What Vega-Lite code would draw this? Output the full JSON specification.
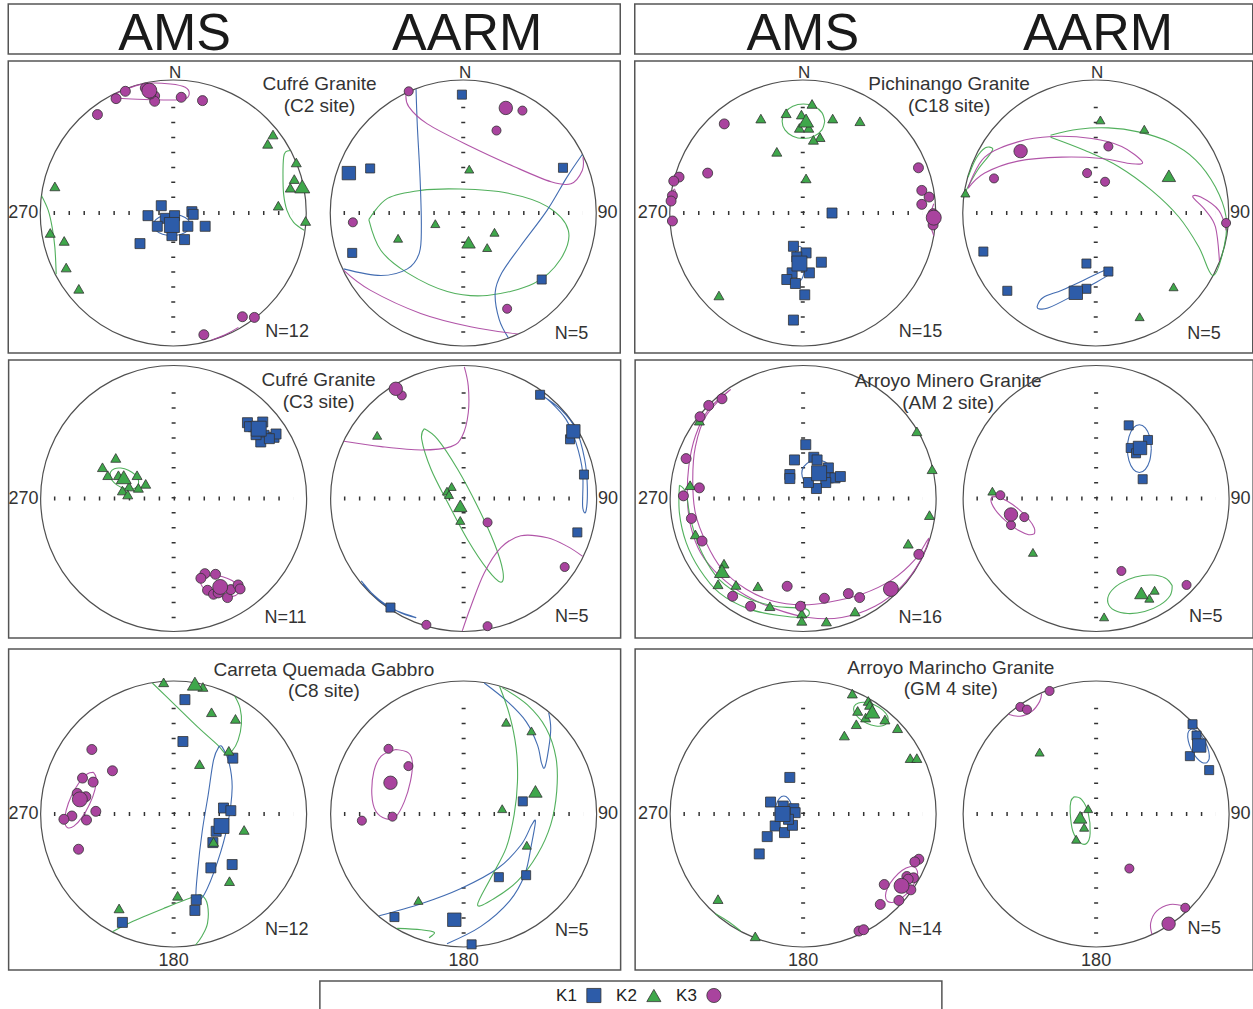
{
"$schema":"https://vega.github.io/schema/vega-lite/v6.json",
"padding":{"left":7.25,"top":3,"right":0,"bottom":0},
"background":"white",
"spacing":5,
"config":{
 "view":{"stroke":"#555","strokeWidth":1.5},
 "axis":{"disable":true},
 "legend":{"disable":true},
 "range":{"category":["#2d5ca9","#3fa74b","#a9439e"],"symbol":["square","triangle-up","circle"]},
 "point":{"filled":true,"opacity":1,"stroke":"#333","strokeWidth":0.8},
 "line":{"strokeWidth":1.1,"opacity":0.9,"interpolate":"cardinal"},
 "rule":{"color":"#333","strokeWidth":4,"strokeDash":[1.5,13.46]},
 "text":{"font":"Liberation Sans","color":"#333","fontSize":18,"baseline":"alphabetic"}
},
"datasets":{
"p1":[{"k":"K1","x":-0.09,"y":0.055},{"k":"K1","x":-0.19,"y":-0.02},{"k":"K1","x":-0.06,"y":-0.04},{"k":"K1","x":0.01,"y":-0.02},{"k":"K1","x":0.14,"y":0.01},{"k":"K1","x":0.15,"y":-0.01},{"k":"K1","x":0.11,"y":-0.1},{"k":"K1","x":0.24,"y":-0.1},{"k":"K1","x":-0.12,"y":-0.1},{"k":"K1","x":-0.01,"y":-0.17},{"k":"K1","x":0.085,"y":-0.2},{"k":"K1","x":-0.25,"y":-0.23},
{"k":"K2","x":0.75,"y":0.59},{"k":"K2","x":0.71,"y":0.52},{"k":"K2","x":0.925,"y":0.38},{"k":"K2","x":0.91,"y":0.255},{"k":"K2","x":0.88,"y":0.19},{"k":"K2","x":0.79,"y":0.055},{"k":"K2","x":0.995,"y":-0.06},{"k":"K2","x":-0.89,"y":0.2},{"k":"K2","x":-0.925,"y":-0.15},{"k":"K2","x":-0.82,"y":-0.21},{"k":"K2","x":-0.805,"y":-0.41},{"k":"K2","x":-0.71,"y":-0.57},
{"k":"K3","x":-0.36,"y":0.915},{"k":"K3","x":-0.43,"y":0.86},{"k":"K3","x":-0.21,"y":0.94},{"k":"K3","x":-0.14,"y":0.88},{"k":"K3","x":-0.14,"y":0.84},{"k":"K3","x":0.06,"y":0.87},{"k":"K3","x":0.22,"y":0.845},{"k":"K3","x":-0.57,"y":0.74},{"k":"K3","x":0.52,"y":-0.78},{"k":"K3","x":0.61,"y":-0.785},{"k":"K3","x":0.23,"y":-0.915},{"k":"K3","x":-0.17,"y":0.895},
{"k":"K1","x":-0.01,"y":-0.09,"m":1},{"k":"K2","x":0.97,"y":0.2,"m":1},{"k":"K3","x":-0.18,"y":0.92,"m":1}],
"p2":[{"k":"K1","x":-0.01,"y":0.89},{"k":"K1","x":-0.7,"y":0.335},{"k":"K1","x":0.75,"y":0.34},{"k":"K1","x":-0.835,"y":-0.3},{"k":"K1","x":0.59,"y":-0.5},
{"k":"K2","x":0.045,"y":0.33},{"k":"K2","x":-0.21,"y":-0.08},{"k":"K2","x":-0.49,"y":-0.19},{"k":"K2","x":0.235,"y":-0.145},{"k":"K2","x":0.18,"y":-0.26},
{"k":"K3","x":-0.41,"y":0.915},{"k":"K3","x":0.445,"y":0.77},{"k":"K3","x":0.25,"y":0.62},{"k":"K3","x":-0.83,"y":-0.07},{"k":"K3","x":0.33,"y":-0.72},
{"k":"K1","x":-0.86,"y":0.3,"m":1},{"k":"K2","x":0.04,"y":-0.22,"m":1},{"k":"K3","x":0.32,"y":0.79,"m":1}],
"p3":[{"k":"K1","x":0.22,"y":0.0},{"k":"K1","x":-0.07,"y":-0.25},{"k":"K1","x":0.025,"y":-0.3},{"k":"K1","x":-0.045,"y":-0.33},{"k":"K1","x":0.14,"y":-0.37},{"k":"K1","x":0.05,"y":-0.45},{"k":"K1","x":-0.08,"y":-0.45},{"k":"K1","x":-0.12,"y":-0.5},{"k":"K1","x":-0.055,"y":-0.53},{"k":"K1","x":0.015,"y":-0.615},{"k":"K1","x":-0.07,"y":-0.805},
{"k":"K2","x":0.07,"y":0.82},{"k":"K2","x":-0.125,"y":0.75},{"k":"K2","x":-0.315,"y":0.71},{"k":"K2","x":0.225,"y":0.71},{"k":"K2","x":0.43,"y":0.69},{"k":"K2","x":-0.01,"y":0.74},{"k":"K2","x":-0.025,"y":0.64},{"k":"K2","x":0.045,"y":0.64},{"k":"K2","x":0.13,"y":0.57},{"k":"K2","x":0.08,"y":0.55},{"k":"K2","x":-0.195,"y":0.46},{"k":"K2","x":0.025,"y":0.26},{"k":"K2","x":-0.63,"y":-0.62},
{"k":"K3","x":-0.59,"y":0.67},{"k":"K3","x":-0.715,"y":0.3},{"k":"K3","x":-0.93,"y":0.27},{"k":"K3","x":-0.97,"y":0.24},{"k":"K3","x":-0.98,"y":0.13},{"k":"K3","x":-0.99,"y":0.09},{"k":"K3","x":-0.98,"y":-0.06},{"k":"K3","x":0.87,"y":0.34},{"k":"K3","x":0.895,"y":0.17},{"k":"K3","x":0.95,"y":0.12},{"k":"K3","x":0.895,"y":0.065},{"k":"K3","x":0.98,"y":-0.005},{"k":"K3","x":0.98,"y":-0.09},
{"k":"K1","x":-0.025,"y":-0.38,"m":1},{"k":"K2","x":0.025,"y":0.695,"m":1},{"k":"K3","x":0.985,"y":-0.035,"m":1}],
"p4":[{"k":"K1","x":-0.845,"y":-0.29},{"k":"K1","x":-0.665,"y":-0.585},{"k":"K1","x":-0.07,"y":-0.38},{"k":"K1","x":0.095,"y":-0.44},{"k":"K1","x":-0.07,"y":-0.57},
{"k":"K2","x":0.035,"y":0.7},{"k":"K2","x":0.365,"y":0.63},{"k":"K2","x":-0.98,"y":0.15},{"k":"K2","x":0.585,"y":-0.555},{"k":"K2","x":0.33,"y":-0.78},
{"k":"K3","x":0.095,"y":0.5},{"k":"K3","x":-0.765,"y":0.26},{"k":"K3","x":-0.065,"y":0.3},{"k":"K3","x":0.07,"y":0.235},{"k":"K3","x":0.98,"y":-0.075},
{"k":"K1","x":-0.15,"y":-0.6,"m":1},{"k":"K2","x":0.55,"y":0.28,"m":1},{"k":"K3","x":-0.565,"y":0.465,"m":1}],
"p5":[{"k":"K1","x":0.555,"y":0.57},{"k":"K1","x":0.6,"y":0.54},{"k":"K1","x":0.67,"y":0.575},{"k":"K1","x":0.68,"y":0.475},{"k":"K1","x":0.655,"y":0.425},{"k":"K1","x":0.755,"y":0.46},{"k":"K1","x":0.77,"y":0.485},{"k":"K1","x":0.57,"y":0.54},{"k":"K1","x":0.72,"y":0.45},{"k":"K1","x":0.62,"y":0.48},
{"k":"K2","x":-0.435,"y":0.305},{"k":"K2","x":-0.535,"y":0.235},{"k":"K2","x":-0.495,"y":0.175},{"k":"K2","x":-0.415,"y":0.175},{"k":"K2","x":-0.275,"y":0.175},{"k":"K2","x":-0.21,"y":0.11},{"k":"K2","x":-0.335,"y":0.09},{"k":"K2","x":-0.265,"y":0.08},{"k":"K2","x":-0.385,"y":0.06},{"k":"K2","x":-0.345,"y":0.03},
{"k":"K3","x":0.235,"y":-0.565},{"k":"K3","x":0.315,"y":-0.57},{"k":"K3","x":0.205,"y":-0.6},{"k":"K3","x":0.255,"y":-0.69},{"k":"K3","x":0.3,"y":-0.72},{"k":"K3","x":0.405,"y":-0.745},{"k":"K3","x":0.43,"y":-0.685},{"k":"K3","x":0.485,"y":-0.65},{"k":"K3","x":0.5,"y":-0.68},{"k":"K3","x":0.335,"y":-0.71},
{"k":"K1","x":0.64,"y":0.525,"m":1},{"k":"K2","x":-0.375,"y":0.16,"m":1},{"k":"K3","x":0.35,"y":-0.665,"m":1}],
"p6":[{"k":"K1","x":0.575,"y":0.78},{"k":"K1","x":0.8,"y":0.445},{"k":"K1","x":0.905,"y":0.18},{"k":"K1","x":0.855,"y":-0.255},{"k":"K1","x":-0.55,"y":-0.82},
{"k":"K2","x":-0.65,"y":0.475},{"k":"K2","x":-0.09,"y":0.09},{"k":"K2","x":-0.125,"y":0.055},{"k":"K2","x":-0.11,"y":0.03},{"k":"K2","x":-0.025,"y":-0.165},
{"k":"K3","x":-0.465,"y":0.775},{"k":"K3","x":0.18,"y":-0.18},{"k":"K3","x":0.76,"y":-0.515},{"k":"K3","x":-0.28,"y":-0.95},{"k":"K3","x":0.18,"y":-0.96},
{"k":"K1","x":0.825,"y":0.505,"m":1},{"k":"K2","x":-0.025,"y":-0.055,"m":1},{"k":"K3","x":-0.51,"y":0.825,"m":1}],
"p7":[{"k":"K1","x":0.02,"y":0.405},{"k":"K1","x":-0.065,"y":0.29},{"k":"K1","x":0.08,"y":0.31},{"k":"K1","x":0.105,"y":0.29},{"k":"K1","x":0.19,"y":0.23},{"k":"K1","x":-0.1,"y":0.18},{"k":"K1","x":-0.1,"y":0.15},{"k":"K1","x":0.19,"y":0.155},{"k":"K1","x":0.24,"y":0.155},{"k":"K1","x":0.28,"y":0.165},{"k":"K1","x":0.17,"y":0.12},{"k":"K1","x":0.1,"y":0.075},{"k":"K1","x":0.04,"y":0.12},
{"k":"K2","x":-0.78,"y":0.585},{"k":"K2","x":0.855,"y":0.505},{"k":"K2","x":0.97,"y":0.22},{"k":"K2","x":-0.85,"y":0.1},{"k":"K2","x":0.95,"y":-0.125},{"k":"K2","x":-0.81,"y":-0.27},{"k":"K2","x":0.79,"y":-0.34},{"k":"K2","x":-0.595,"y":-0.49},{"k":"K2","x":-0.64,"y":-0.645},{"k":"K2","x":-0.505,"y":-0.65},{"k":"K2","x":-0.34,"y":-0.66},{"k":"K2","x":-0.25,"y":-0.81},{"k":"K2","x":-0.01,"y":-0.865},{"k":"K2","x":-0.01,"y":-0.92},{"k":"K2","x":0.175,"y":-0.925},{"k":"K2","x":0.39,"y":-0.85},
{"k":"K3","x":-0.61,"y":0.75},{"k":"K3","x":-0.71,"y":0.7},{"k":"K3","x":-0.775,"y":0.615},{"k":"K3","x":-0.88,"y":0.3},{"k":"K3","x":-0.78,"y":0.08},{"k":"K3","x":-0.9,"y":0.02},{"k":"K3","x":-0.84,"y":-0.15},{"k":"K3","x":-0.76,"y":-0.32},{"k":"K3","x":-0.12,"y":-0.66},{"k":"K3","x":-0.53,"y":-0.735},{"k":"K3","x":-0.395,"y":-0.81},{"k":"K3","x":-0.02,"y":-0.81},{"k":"K3","x":0.16,"y":-0.75},{"k":"K3","x":0.34,"y":-0.715},{"k":"K3","x":0.425,"y":-0.745},{"k":"K3","x":0.87,"y":-0.42},
{"k":"K1","x":0.12,"y":0.19,"m":1},{"k":"K2","x":-0.61,"y":-0.545,"m":1},{"k":"K3","x":0.66,"y":-0.68,"m":1}],
"p8":[{"k":"K1","x":0.245,"y":0.55},{"k":"K1","x":0.39,"y":0.44},{"k":"K1","x":0.26,"y":0.38},{"k":"K1","x":0.3,"y":0.34},{"k":"K1","x":0.35,"y":0.145},
{"k":"K2","x":-0.78,"y":0.055},{"k":"K2","x":-0.475,"y":-0.405},{"k":"K2","x":0.06,"y":-0.89},{"k":"K2","x":0.4,"y":-0.75},{"k":"K2","x":0.44,"y":-0.69},
{"k":"K3","x":-0.72,"y":0.025},{"k":"K3","x":-0.54,"y":-0.14},{"k":"K3","x":-0.64,"y":-0.2},{"k":"K3","x":0.19,"y":-0.545},{"k":"K3","x":0.68,"y":-0.65},
{"k":"K1","x":0.33,"y":0.38,"m":1},{"k":"K2","x":0.34,"y":-0.71,"m":1},{"k":"K3","x":-0.64,"y":-0.12,"m":1}],
"p9":[{"k":"K1","x":0.085,"y":0.86},{"k":"K1","x":0.07,"y":0.545},{"k":"K1","x":0.445,"y":0.42},{"k":"K1","x":0.375,"y":0.045},{"k":"K1","x":0.43,"y":0.025},{"k":"K1","x":0.32,"y":-0.13},{"k":"K1","x":0.295,"y":-0.215},{"k":"K1","x":0.28,"y":-0.405},{"k":"K1","x":0.44,"y":-0.38},{"k":"K1","x":0.17,"y":-0.645},{"k":"K1","x":0.16,"y":-0.725},{"k":"K1","x":-0.385,"y":-0.815},
{"k":"K2","x":-0.075,"y":0.99},{"k":"K2","x":0.22,"y":0.955},{"k":"K2","x":0.285,"y":0.765},{"k":"K2","x":0.465,"y":0.715},{"k":"K2","x":0.415,"y":0.475},{"k":"K2","x":0.195,"y":0.375},{"k":"K2","x":0.53,"y":-0.12},{"k":"K2","x":0.3,"y":-0.21},{"k":"K2","x":0.42,"y":-0.505},{"k":"K2","x":0.03,"y":-0.615},{"k":"K2","x":-0.41,"y":-0.71},
{"k":"K3","x":-0.615,"y":0.485},{"k":"K3","x":-0.46,"y":0.325},{"k":"K3","x":-0.685,"y":0.27},{"k":"K3","x":-0.605,"y":0.24},{"k":"K3","x":-0.725,"y":0.155},{"k":"K3","x":-0.66,"y":0.13},{"k":"K3","x":-0.585,"y":0.02},{"k":"K3","x":-0.765,"y":-0.015},{"k":"K3","x":-0.825,"y":-0.04},{"k":"K3","x":-0.655,"y":-0.045},{"k":"K3","x":-0.715,"y":-0.265},
{"k":"K1","x":0.36,"y":-0.09,"m":1},{"k":"K2","x":0.16,"y":0.98,"m":1},{"k":"K3","x":-0.705,"y":0.11,"m":1}],
"p10":[{"k":"K1","x":0.445,"y":0.095},{"k":"K1","x":0.265,"y":-0.475},{"k":"K1","x":0.47,"y":-0.46},{"k":"K1","x":-0.52,"y":-0.775},{"k":"K1","x":0.06,"y":-0.98},
{"k":"K2","x":0.32,"y":0.69},{"k":"K2","x":0.51,"y":0.625},{"k":"K2","x":0.29,"y":0.04},{"k":"K2","x":0.475,"y":-0.235},{"k":"K2","x":-0.34,"y":-0.65},
{"k":"K3","x":-0.565,"y":0.49},{"k":"K3","x":-0.415,"y":0.36},{"k":"K3","x":-0.535,"y":-0.02},{"k":"K3","x":-0.765,"y":-0.05},
{"k":"K1","x":-0.07,"y":-0.795,"m":1},{"k":"K2","x":0.54,"y":0.17,"m":1},{"k":"K3","x":-0.55,"y":0.235,"m":1}],
"p11":[{"k":"K1","x":-0.1,"y":0.275},{"k":"K1","x":-0.245,"y":0.09},{"k":"K1","x":-0.15,"y":0.06},{"k":"K1","x":-0.07,"y":0.04},{"k":"K1","x":-0.06,"y":0.01},{"k":"K1","x":-0.21,"y":-0.09},{"k":"K1","x":-0.14,"y":-0.14},{"k":"K1","x":-0.08,"y":-0.085},{"k":"K1","x":-0.27,"y":-0.17},{"k":"K1","x":-0.33,"y":-0.3},{"k":"K1","x":-0.11,"y":-0.04},
{"k":"K2","x":0.37,"y":0.905},{"k":"K2","x":0.49,"y":0.85},{"k":"K2","x":0.5,"y":0.82},{"k":"K2","x":0.41,"y":0.775},{"k":"K2","x":0.47,"y":0.725},{"k":"K2","x":0.615,"y":0.71},{"k":"K2","x":0.4,"y":0.675},{"k":"K2","x":0.71,"y":0.645},{"k":"K2","x":0.31,"y":0.59},{"k":"K2","x":0.805,"y":0.42},{"k":"K2","x":0.855,"y":0.42},{"k":"K2","x":-0.64,"y":-0.64},{"k":"K2","x":-0.36,"y":-0.92},
{"k":"K3","x":0.87,"y":-0.34},{"k":"K3","x":0.84,"y":-0.36},{"k":"K3","x":0.78,"y":-0.47},{"k":"K3","x":0.83,"y":-0.48},{"k":"K3","x":0.61,"y":-0.53},{"k":"K3","x":0.81,"y":-0.57},{"k":"K3","x":0.72,"y":-0.65},{"k":"K3","x":0.58,"y":-0.68},{"k":"K3","x":0.42,"y":-0.88},{"k":"K3","x":0.455,"y":-0.87},{"k":"K3","x":0.79,"y":-0.49},
{"k":"K1","x":-0.155,"y":0.0,"m":1},{"k":"K2","x":0.52,"y":0.77,"m":1},{"k":"K3","x":0.74,"y":-0.54,"m":1}],
"p12":[{"k":"K1","x":0.725,"y":0.675},{"k":"K1","x":0.755,"y":0.59},{"k":"K1","x":0.705,"y":0.435},{"k":"K1","x":0.85,"y":0.33},
{"k":"K2","x":-0.425,"y":0.465},{"k":"K2","x":-0.06,"y":0.04},{"k":"K2","x":-0.09,"y":-0.1},{"k":"K2","x":-0.15,"y":-0.19},
{"k":"K3","x":-0.35,"y":0.925},{"k":"K3","x":-0.57,"y":0.805},{"k":"K3","x":-0.52,"y":0.785},{"k":"K3","x":0.25,"y":-0.41},{"k":"K3","x":0.67,"y":-0.705},
{"k":"K1","x":0.775,"y":0.515,"m":1},{"k":"K2","x":-0.12,"y":-0.025,"m":1},{"k":"K3","x":0.545,"y":-0.825,"m":1}],
"c1":[{"c":"a","k":"K1","x":0.13,"y":-0.09},{"c":"a","k":"K1","x":0.111,"y":-0.05},{"c":"a","k":"K1","x":0.06,"y":-0.021},{"c":"a","k":"K1","x":-0.01,"y":-0.01},{"c":"a","k":"K1","x":-0.08,"y":-0.021},{"c":"a","k":"K1","x":-0.131,"y":-0.05},{"c":"a","k":"K1","x":-0.15,"y":-0.09},{"c":"a","k":"K1","x":-0.131,"y":-0.13},{"c":"a","k":"K1","x":-0.08,"y":-0.159},{"c":"a","k":"K1","x":-0.01,"y":-0.17},{"c":"a","k":"K1","x":0.06,"y":-0.159},{"c":"a","k":"K1","x":0.111,"y":-0.13},{"c":"a","k":"K1","x":0.13,"y":-0.09},
{"c":"b","k":"K3","x":-0.47,"y":0.88},{"c":"b","k":"K3","x":-0.33,"y":0.94},{"c":"b","k":"K3","x":-0.2,"y":0.975},{"c":"b","k":"K3","x":-0.02,"y":0.97},{"c":"b","k":"K3","x":0.09,"y":0.945},{"c":"b","k":"K3","x":0.12,"y":0.895},{"c":"b","k":"K3","x":0.08,"y":0.855},{"c":"b","k":"K3","x":-0.07,"y":0.85},{"c":"b","k":"K3","x":-0.27,"y":0.855},{"c":"b","k":"K3","x":-0.41,"y":0.865},{"c":"b","k":"K3","x":-0.47,"y":0.88},
{"c":"c","k":"K3","x":0.29,"y":-0.955},{"c":"c","k":"K3","x":0.39,"y":-0.915},{"c":"c","k":"K3","x":0.49,"y":-0.86},
{"c":"d","k":"K2","x":0.88,"y":0.47},{"c":"d","k":"K2","x":0.845,"y":0.46},{"c":"d","k":"K2","x":0.83,"y":0.42},{"c":"d","k":"K2","x":0.825,"y":0.29},{"c":"d","k":"K2","x":0.83,"y":0.14},{"c":"d","k":"K2","x":0.855,"y":0.02},{"c":"d","k":"K2","x":0.905,"y":-0.07},{"c":"d","k":"K2","x":0.985,"y":-0.13},
{"c":"e","k":"K2","x":-0.99,"y":0.13},{"c":"e","k":"K2","x":-0.94,"y":0.02},{"c":"e","k":"K2","x":-0.91,"y":-0.11},{"c":"e","k":"K2","x":-0.89,"y":-0.26},{"c":"e","k":"K2","x":-0.88,"y":-0.46}],
"c2":[{"c":"a","k":"K2","x":-0.71,"y":-0.05},{"c":"a","k":"K2","x":-0.57,"y":0.11},{"c":"a","k":"K2","x":-0.32,"y":0.17},{"c":"a","k":"K2","x":-0.02,"y":0.18},{"c":"a","k":"K2","x":0.33,"y":0.15},{"c":"a","k":"K2","x":0.63,"y":0.05},{"c":"a","k":"K2","x":0.79,"y":-0.13},{"c":"a","k":"K2","x":0.73,"y":-0.35},{"c":"a","k":"K2","x":0.53,"y":-0.53},{"c":"a","k":"K2","x":0.18,"y":-0.62},{"c":"a","k":"K2","x":-0.12,"y":-0.59},{"c":"a","k":"K2","x":-0.42,"y":-0.45},{"c":"a","k":"K2","x":-0.62,"y":-0.28},{"c":"a","k":"K2","x":-0.71,"y":-0.05},
{"c":"b","k":"K1","x":-0.355,"y":0.93},{"c":"b","k":"K1","x":-0.345,"y":0.65},{"c":"b","k":"K1","x":-0.325,"y":0.27},{"c":"b","k":"K1","x":-0.315,"y":-0.1},{"c":"b","k":"K1","x":-0.33,"y":-0.3},{"c":"b","k":"K1","x":-0.42,"y":-0.42},{"c":"b","k":"K1","x":-0.62,"y":-0.47},{"c":"b","k":"K1","x":-0.9,"y":-0.42},
{"c":"c","k":"K1","x":0.895,"y":0.44},{"c":"c","k":"K1","x":0.78,"y":0.27},{"c":"c","k":"K1","x":0.63,"y":0.02},{"c":"c","k":"K1","x":0.43,"y":-0.25},{"c":"c","k":"K1","x":0.29,"y":-0.45},{"c":"c","k":"K1","x":0.24,"y":-0.6},{"c":"c","k":"K1","x":0.27,"y":-0.8},{"c":"c","k":"K1","x":0.34,"y":-0.94},
{"c":"d","k":"K3","x":-0.43,"y":0.9},{"c":"d","k":"K3","x":-0.41,"y":0.8},{"c":"d","k":"K3","x":-0.27,"y":0.67},{"c":"d","k":"K3","x":0.055,"y":0.5},{"c":"d","k":"K3","x":0.38,"y":0.35},{"c":"d","k":"K3","x":0.66,"y":0.235},{"c":"d","k":"K3","x":0.81,"y":0.22},{"c":"d","k":"K3","x":0.895,"y":0.32},{"c":"d","k":"K3","x":0.9,"y":0.42},
{"c":"e","k":"K3","x":-0.9,"y":-0.43},{"c":"e","k":"K3","x":-0.7,"y":-0.58},{"c":"e","k":"K3","x":-0.32,"y":-0.755},{"c":"e","k":"K3","x":0.055,"y":-0.855},{"c":"e","k":"K3","x":0.41,"y":-0.91}],
"c3":[{"c":"a","k":"K1","x":0.015,"y":-0.38},{"c":"a","k":"K1","x":0.01,"y":-0.315},{"c":"a","k":"K1","x":-0.005,"y":-0.267},{"c":"a","k":"K1","x":-0.025,"y":-0.25},{"c":"a","k":"K1","x":-0.045,"y":-0.267},{"c":"a","k":"K1","x":-0.06,"y":-0.315},{"c":"a","k":"K1","x":-0.065,"y":-0.38},{"c":"a","k":"K1","x":-0.06,"y":-0.445},{"c":"a","k":"K1","x":-0.045,"y":-0.493},{"c":"a","k":"K1","x":-0.025,"y":-0.51},{"c":"a","k":"K1","x":-0.005,"y":-0.493},{"c":"a","k":"K1","x":0.01,"y":-0.445},{"c":"a","k":"K1","x":0.015,"y":-0.38},
{"c":"b","k":"K2","x":0.165,"y":0.69},{"c":"b","k":"K2","x":0.144,"y":0.755},{"c":"b","k":"K2","x":0.085,"y":0.803},{"c":"b","k":"K2","x":0.005,"y":0.82},{"c":"b","k":"K2","x":-0.075,"y":0.803},{"c":"b","k":"K2","x":-0.134,"y":0.755},{"c":"b","k":"K2","x":-0.155,"y":0.69},{"c":"b","k":"K2","x":-0.134,"y":0.625},{"c":"b","k":"K2","x":-0.075,"y":0.577},{"c":"b","k":"K2","x":0.005,"y":0.56},{"c":"b","k":"K2","x":0.085,"y":0.577},{"c":"b","k":"K2","x":0.144,"y":0.625},{"c":"b","k":"K2","x":0.165,"y":0.69},
{"c":"c","k":"K3","x":-0.95,"y":0.12},{"c":"c","k":"K3","x":-0.965,"y":0.18},{"c":"c","k":"K3","x":-0.985,"y":0.12},{"c":"c","k":"K3","x":-0.975,"y":0.06},{"c":"c","k":"K3","x":-0.95,"y":0.12},
{"c":"d","k":"K3","x":0.985,"y":0.07},{"c":"d","k":"K3","x":0.965,"y":0.0},{"c":"d","k":"K3","x":0.965,"y":-0.1},{"c":"d","k":"K3","x":0.985,"y":-0.17}],
"c4":[{"c":"a","k":"K1","x":-0.44,"y":-0.7},{"c":"a","k":"K1","x":-0.395,"y":-0.635},{"c":"a","k":"K1","x":-0.255,"y":-0.58},{"c":"a","k":"K1","x":-0.08,"y":-0.5},{"c":"a","k":"K1","x":0.06,"y":-0.435},{"c":"a","k":"K1","x":0.125,"y":-0.42},{"c":"a","k":"K1","x":0.095,"y":-0.465},{"c":"a","k":"K1","x":-0.03,"y":-0.54},{"c":"a","k":"K1","x":-0.205,"y":-0.64},{"c":"a","k":"K1","x":-0.36,"y":-0.715},{"c":"a","k":"K1","x":-0.43,"y":-0.72},{"c":"a","k":"K1","x":-0.44,"y":-0.7},
{"c":"b","k":"K2","x":-0.34,"y":0.585},{"c":"b","k":"K2","x":-0.13,"y":0.63},{"c":"b","k":"K2","x":0.095,"y":0.64},{"c":"b","k":"K2","x":0.32,"y":0.61},{"c":"b","k":"K2","x":0.55,"y":0.535},{"c":"b","k":"K2","x":0.75,"y":0.4},{"c":"b","k":"K2","x":0.9,"y":0.195},{"c":"b","k":"K2","x":0.98,"y":-0.03},{"c":"b","k":"K2","x":0.965,"y":-0.255},{"c":"b","k":"K2","x":0.88,"y":-0.47},{"c":"b","k":"K2","x":0.775,"y":-0.255},{"c":"b","k":"K2","x":0.625,"y":-0.03},{"c":"b","k":"K2","x":0.42,"y":0.17},{"c":"b","k":"K2","x":0.17,"y":0.35},{"c":"b","k":"K2","x":-0.08,"y":0.47},{"c":"b","k":"K2","x":-0.34,"y":0.57},
{"c":"c","k":"K2","x":-0.98,"y":0.16},{"c":"c","k":"K2","x":-0.89,"y":0.32},{"c":"c","k":"K2","x":-0.8,"y":0.435},{"c":"c","k":"K2","x":-0.775,"y":0.485},{"c":"c","k":"K2","x":-0.83,"y":0.49},{"c":"c","k":"K2","x":-0.9,"y":0.41},{"c":"c","k":"K2","x":-0.96,"y":0.27},
{"c":"d","k":"K3","x":-0.96,"y":0.19},{"c":"d","k":"K3","x":-0.835,"y":0.42},{"c":"d","k":"K3","x":-0.585,"y":0.535},{"c":"d","k":"K3","x":-0.33,"y":0.575},{"c":"d","k":"K3","x":-0.03,"y":0.56},{"c":"d","k":"K3","x":0.195,"y":0.5},{"c":"d","k":"K3","x":0.35,"y":0.385},{"c":"d","k":"K3","x":0.27,"y":0.37},{"c":"d","k":"K3","x":0.045,"y":0.41},{"c":"d","k":"K3","x":-0.255,"y":0.42},{"c":"d","k":"K3","x":-0.585,"y":0.39},{"c":"d","k":"K3","x":-0.835,"y":0.3},{"c":"d","k":"K3","x":-0.96,"y":0.185},
{"c":"e","k":"K3","x":0.93,"y":-0.36},{"c":"e","k":"K3","x":0.9,"y":-0.105},{"c":"e","k":"K3","x":0.825,"y":0.02},{"c":"e","k":"K3","x":0.73,"y":0.12},{"c":"e","k":"K3","x":0.79,"y":0.12},{"c":"e","k":"K3","x":0.925,"y":0.02},{"c":"e","k":"K3","x":0.98,"y":-0.13}],
"c5":[{"c":"a","k":"K2","x":-0.266,"y":0.101},{"c":"a","k":"K2","x":-0.265,"y":0.14},{"c":"a","k":"K2","x":-0.292,"y":0.181},{"c":"a","k":"K2","x":-0.34,"y":0.213},{"c":"a","k":"K2","x":-0.397,"y":0.229},{"c":"a","k":"K2","x":-0.445,"y":0.224},{"c":"a","k":"K2","x":-0.474,"y":0.199},{"c":"a","k":"K2","x":-0.475,"y":0.16},{"c":"a","k":"K2","x":-0.448,"y":0.119},{"c":"a","k":"K2","x":-0.4,"y":0.087},{"c":"a","k":"K2","x":-0.343,"y":0.071},{"c":"a","k":"K2","x":-0.295,"y":0.076},{"c":"a","k":"K2","x":-0.266,"y":0.101},
{"c":"b","k":"K3","x":0.495,"y":-0.699},{"c":"b","k":"K3","x":0.485,"y":-0.658},{"c":"b","k":"K3","x":0.439,"y":-0.617},{"c":"b","k":"K3","x":0.369,"y":-0.588},{"c":"b","k":"K3","x":0.294,"y":-0.578},{"c":"b","k":"K3","x":0.234,"y":-0.59},{"c":"b","k":"K3","x":0.205,"y":-0.621},{"c":"b","k":"K3","x":0.215,"y":-0.662},{"c":"b","k":"K3","x":0.261,"y":-0.703},{"c":"b","k":"K3","x":0.331,"y":-0.732},{"c":"b","k":"K3","x":0.406,"y":-0.742},{"c":"b","k":"K3","x":0.466,"y":-0.73},{"c":"b","k":"K3","x":0.495,"y":-0.699}],
"c6":[{"c":"a","k":"K2","x":-0.295,"y":0.525},{"c":"a","k":"K2","x":-0.315,"y":0.445},{"c":"a","k":"K2","x":-0.245,"y":0.22},{"c":"a","k":"K2","x":-0.12,"y":-0.03},{"c":"a","k":"K2","x":0.03,"y":-0.31},{"c":"a","k":"K2","x":0.18,"y":-0.535},{"c":"a","k":"K2","x":0.28,"y":-0.63},{"c":"a","k":"K2","x":0.295,"y":-0.545},{"c":"a","k":"K2","x":0.23,"y":-0.335},{"c":"a","k":"K2","x":0.105,"y":-0.06},{"c":"a","k":"K2","x":-0.045,"y":0.22},{"c":"a","k":"K2","x":-0.195,"y":0.445},{"c":"a","k":"K2","x":-0.295,"y":0.525},
{"c":"b","k":"K3","x":0.005,"y":0.99},{"c":"b","k":"K3","x":0.035,"y":0.845},{"c":"b","k":"K3","x":0.035,"y":0.645},{"c":"b","k":"K3","x":-0.01,"y":0.47},{"c":"b","k":"K3","x":-0.095,"y":0.39},{"c":"b","k":"K3","x":-0.32,"y":0.365},{"c":"b","k":"K3","x":-0.62,"y":0.39},{"c":"b","k":"K3","x":-0.9,"y":0.43},
{"c":"c","k":"K3","x":-0.01,"y":-0.995},{"c":"c","k":"K3","x":0.055,"y":-0.81},{"c":"c","k":"K3","x":0.155,"y":-0.56},{"c":"c","k":"K3","x":0.28,"y":-0.37},{"c":"c","k":"K3","x":0.43,"y":-0.28},{"c":"c","k":"K3","x":0.63,"y":-0.295},{"c":"c","k":"K3","x":0.78,"y":-0.36},{"c":"c","k":"K3","x":0.895,"y":-0.435},
{"c":"d","k":"K1","x":0.58,"y":0.78},{"c":"d","k":"K1","x":0.73,"y":0.67},{"c":"d","k":"K1","x":0.845,"y":0.52},{"c":"d","k":"K1","x":0.91,"y":0.295},{"c":"d","k":"K1","x":0.93,"y":0.09},{"c":"d","k":"K1","x":0.92,"y":-0.095},{"c":"d","k":"K1","x":0.895,"y":-0.06},{"c":"d","k":"K1","x":0.895,"y":0.195},{"c":"d","k":"K1","x":0.845,"y":0.42},{"c":"d","k":"K1","x":0.77,"y":0.595},{"c":"d","k":"K1","x":0.655,"y":0.725},{"c":"d","k":"K1","x":0.58,"y":0.78},
{"c":"e","k":"K1","x":-0.77,"y":-0.62},{"c":"e","k":"K1","x":-0.645,"y":-0.76},{"c":"e","k":"K1","x":-0.535,"y":-0.83},{"c":"e","k":"K1","x":-0.36,"y":-0.895},{"c":"e","k":"K1","x":-0.47,"y":-0.86},{"c":"e","k":"K1","x":-0.61,"y":-0.78},{"c":"e","k":"K1","x":-0.76,"y":-0.645}],
"c7":[{"c":"a","k":"K1","x":0.22,"y":0.19},{"c":"a","k":"K1","x":0.205,"y":0.24},{"c":"a","k":"K1","x":0.163,"y":0.277},{"c":"a","k":"K1","x":0.105,"y":0.29},{"c":"a","k":"K1","x":0.048,"y":0.277},{"c":"a","k":"K1","x":0.005,"y":0.24},{"c":"a","k":"K1","x":-0.01,"y":0.19},{"c":"a","k":"K1","x":0.005,"y":0.14},{"c":"a","k":"K1","x":0.048,"y":0.103},{"c":"a","k":"K1","x":0.105,"y":0.09},{"c":"a","k":"K1","x":0.163,"y":0.103},{"c":"a","k":"K1","x":0.205,"y":0.14},{"c":"a","k":"K1","x":0.22,"y":0.19},
{"c":"b","k":"K3","x":-0.545,"y":0.82},{"c":"b","k":"K3","x":-0.71,"y":0.67},{"c":"b","k":"K3","x":-0.81,"y":0.47},{"c":"b","k":"K3","x":-0.86,"y":0.24},{"c":"b","k":"K3","x":-0.87,"y":-0.01},{"c":"b","k":"K3","x":-0.845,"y":-0.21},{"c":"b","k":"K3","x":-0.77,"y":-0.41},{"c":"b","k":"K3","x":-0.63,"y":-0.58},{"c":"b","k":"K3","x":-0.43,"y":-0.73},{"c":"b","k":"K3","x":-0.21,"y":-0.83},{"c":"b","k":"K3","x":0.04,"y":-0.895},{"c":"b","k":"K3","x":0.29,"y":-0.895},{"c":"b","k":"K3","x":0.54,"y":-0.81},{"c":"b","k":"K3","x":0.74,"y":-0.66},{"c":"b","k":"K3","x":0.88,"y":-0.47},{"c":"b","k":"K3","x":0.945,"y":-0.3},{"c":"b","k":"K3","x":0.84,"y":-0.46},{"c":"b","k":"K3","x":0.67,"y":-0.61},{"c":"b","k":"K3","x":0.44,"y":-0.72},{"c":"b","k":"K3","x":0.19,"y":-0.78},{"c":"b","k":"K3","x":-0.01,"y":-0.8},{"c":"b","k":"K3","x":-0.23,"y":-0.77},{"c":"b","k":"K3","x":-0.43,"y":-0.68},{"c":"b","k":"K3","x":-0.61,"y":-0.53},{"c":"b","k":"K3","x":-0.73,"y":-0.33},{"c":"b","k":"K3","x":-0.81,"y":-0.11},{"c":"b","k":"K3","x":-0.83,"y":0.14},{"c":"b","k":"K3","x":-0.81,"y":0.39},{"c":"b","k":"K3","x":-0.73,"y":0.62},{"c":"b","k":"K3","x":-0.545,"y":0.82},
{"c":"c","k":"K2","x":-0.93,"y":0.1},{"c":"c","k":"K2","x":-0.93,"y":-0.11},{"c":"c","k":"K2","x":-0.88,"y":-0.33},{"c":"c","k":"K2","x":-0.78,"y":-0.53},{"c":"c","k":"K2","x":-0.63,"y":-0.71},{"c":"c","k":"K2","x":-0.41,"y":-0.83},{"c":"c","k":"K2","x":-0.18,"y":-0.88},{"c":"c","k":"K2","x":0.02,"y":-0.89},{"c":"c","k":"K2","x":0.02,"y":-0.83},{"c":"c","k":"K2","x":-0.21,"y":-0.81},{"c":"c","k":"K2","x":-0.43,"y":-0.745},{"c":"c","k":"K2","x":-0.63,"y":-0.61},{"c":"c","k":"K2","x":-0.76,"y":-0.41},{"c":"c","k":"K2","x":-0.845,"y":-0.16},{"c":"c","k":"K2","x":-0.88,"y":0.04},{"c":"c","k":"K2","x":-0.93,"y":0.1}],
"c8":[{"c":"a","k":"K1","x":0.415,"y":0.375},{"c":"a","k":"K1","x":0.403,"y":0.465},{"c":"a","k":"K1","x":0.37,"y":0.531},{"c":"a","k":"K1","x":0.325,"y":0.555},{"c":"a","k":"K1","x":0.28,"y":0.531},{"c":"a","k":"K1","x":0.247,"y":0.465},{"c":"a","k":"K1","x":0.235,"y":0.375},{"c":"a","k":"K1","x":0.247,"y":0.285},{"c":"a","k":"K1","x":0.28,"y":0.219},{"c":"a","k":"K1","x":0.325,"y":0.195},{"c":"a","k":"K1","x":0.37,"y":0.219},{"c":"a","k":"K1","x":0.403,"y":0.285},{"c":"a","k":"K1","x":0.415,"y":0.375},
{"c":"b","k":"K2","x":0.572,"y":-0.655},{"c":"b","k":"K2","x":0.522,"y":-0.599},{"c":"b","k":"K2","x":0.421,"y":-0.575},{"c":"b","k":"K2","x":0.295,"y":-0.59},{"c":"b","k":"K2","x":0.179,"y":-0.64},{"c":"b","k":"K2","x":0.103,"y":-0.711},{"c":"b","k":"K2","x":0.089,"y":-0.785},{"c":"b","k":"K2","x":0.138,"y":-0.841},{"c":"b","k":"K2","x":0.239,"y":-0.865},{"c":"b","k":"K2","x":0.365,"y":-0.85},{"c":"b","k":"K2","x":0.481,"y":-0.8},{"c":"b","k":"K2","x":0.557,"y":-0.729},{"c":"b","k":"K2","x":0.572,"y":-0.655},
{"c":"c","k":"K3","x":-0.464,"y":-0.265},{"c":"c","k":"K3","x":-0.465,"y":-0.222},{"c":"c","k":"K3","x":-0.508,"y":-0.154},{"c":"c","k":"K3","x":-0.583,"y":-0.08},{"c":"c","k":"K3","x":-0.669,"y":-0.019},{"c":"c","k":"K3","x":-0.743,"y":0.012},{"c":"c","k":"K3","x":-0.786,"y":0.005},{"c":"c","k":"K3","x":-0.785,"y":-0.038},{"c":"c","k":"K3","x":-0.742,"y":-0.106},{"c":"c","k":"K3","x":-0.667,"y":-0.18},{"c":"c","k":"K3","x":-0.581,"y":-0.241},{"c":"c","k":"K3","x":-0.507,"y":-0.272},{"c":"c","k":"K3","x":-0.464,"y":-0.265}],
"c9":[{"c":"a","k":"K3","x":-0.603,"y":0.313},{"c":"a","k":"K3","x":-0.65,"y":0.301},{"c":"a","k":"K3","x":-0.71,"y":0.237},{"c":"a","k":"K3","x":-0.768,"y":0.137},{"c":"a","k":"K3","x":-0.808,"y":0.028},{"c":"a","k":"K3","x":-0.818,"y":-0.06},{"c":"a","k":"K3","x":-0.797,"y":-0.103},{"c":"a","k":"K3","x":-0.75,"y":-0.091},{"c":"a","k":"K3","x":-0.69,"y":-0.027},{"c":"a","k":"K3","x":-0.632,"y":0.073},{"c":"a","k":"K3","x":-0.592,"y":0.182},{"c":"a","k":"K3","x":-0.582,"y":0.27},{"c":"a","k":"K3","x":-0.603,"y":0.313},
{"c":"b","k":"K2","x":-0.16,"y":0.985},{"c":"b","k":"K2","x":0.0,"y":0.83},{"c":"b","k":"K2","x":0.18,"y":0.655},{"c":"b","k":"K2","x":0.33,"y":0.52},{"c":"b","k":"K2","x":0.39,"y":0.455},{"c":"b","k":"K2","x":0.44,"y":0.475},{"c":"b","k":"K2","x":0.485,"y":0.555},{"c":"b","k":"K2","x":0.51,"y":0.68},{"c":"b","k":"K2","x":0.5,"y":0.795},{"c":"b","k":"K2","x":0.46,"y":0.885},
{"c":"c","k":"K2","x":-0.46,"y":-0.885},{"c":"c","k":"K2","x":-0.325,"y":-0.815},{"c":"c","k":"K2","x":-0.075,"y":-0.71},{"c":"c","k":"K2","x":0.155,"y":-0.62},{"c":"c","k":"K2","x":0.215,"y":-0.615},{"c":"c","k":"K2","x":0.255,"y":-0.685},{"c":"c","k":"K2","x":0.255,"y":-0.82},{"c":"c","k":"K2","x":0.215,"y":-0.915},{"c":"c","k":"K2","x":0.165,"y":-0.985},
{"c":"d","k":"K1","x":0.34,"y":0.505},{"c":"d","k":"K1","x":0.3,"y":0.405},{"c":"d","k":"K1","x":0.26,"y":0.145},{"c":"d","k":"K1","x":0.215,"y":-0.13},{"c":"d","k":"K1","x":0.18,"y":-0.435},{"c":"d","k":"K1","x":0.17,"y":-0.635},{"c":"d","k":"K1","x":0.23,"y":-0.605},{"c":"d","k":"K1","x":0.33,"y":-0.36},{"c":"d","k":"K1","x":0.405,"y":-0.085},{"c":"d","k":"K1","x":0.44,"y":0.195},{"c":"d","k":"K1","x":0.415,"y":0.395},{"c":"d","k":"K1","x":0.365,"y":0.505},{"c":"d","k":"K1","x":0.34,"y":0.505}],
"c10":[{"c":"a","k":"K3","x":-0.51,"y":0.485},{"c":"a","k":"K3","x":-0.415,"y":0.46},{"c":"a","k":"K3","x":-0.385,"y":0.385},{"c":"a","k":"K3","x":-0.4,"y":0.245},{"c":"a","k":"K3","x":-0.445,"y":0.095},{"c":"a","k":"K3","x":-0.51,"y":-0.02},{"c":"a","k":"K3","x":-0.585,"y":-0.035},{"c":"a","k":"K3","x":-0.66,"y":0.02},{"c":"a","k":"K3","x":-0.69,"y":0.145},{"c":"a","k":"K3","x":-0.675,"y":0.32},{"c":"a","k":"K3","x":-0.62,"y":0.435},{"c":"a","k":"K3","x":-0.51,"y":0.485},
{"c":"b","k":"K1","x":0.155,"y":0.985},{"c":"b","k":"K1","x":0.33,"y":0.845},{"c":"b","k":"K1","x":0.47,"y":0.695},{"c":"b","k":"K1","x":0.555,"y":0.52},{"c":"b","k":"K1","x":0.585,"y":0.385},{"c":"b","k":"K1","x":0.61,"y":0.35},{"c":"b","k":"K1","x":0.64,"y":0.495},{"c":"b","k":"K1","x":0.655,"y":0.645},{"c":"b","k":"K1","x":0.64,"y":0.76},
{"c":"c","k":"K1","x":-0.635,"y":-0.765},{"c":"c","k":"K1","x":-0.32,"y":-0.675},{"c":"c","k":"K1","x":-0.02,"y":-0.56},{"c":"c","k":"K1","x":0.255,"y":-0.41},{"c":"c","k":"K1","x":0.43,"y":-0.235},{"c":"c","k":"K1","x":0.51,"y":-0.085},{"c":"c","k":"K1","x":0.54,"y":-0.055},{"c":"c","k":"K1","x":0.51,"y":-0.23},{"c":"c","k":"K1","x":0.46,"y":-0.455},{"c":"c","k":"K1","x":0.345,"y":-0.655},{"c":"c","k":"K1","x":0.13,"y":-0.845},{"c":"c","k":"K1","x":-0.125,"y":-0.975},
{"c":"d","k":"K2","x":0.29,"y":0.95},{"c":"d","k":"K2","x":0.48,"y":0.82},{"c":"d","k":"K2","x":0.62,"y":0.645},{"c":"d","k":"K2","x":0.695,"y":0.42},{"c":"d","k":"K2","x":0.7,"y":0.17},{"c":"d","k":"K2","x":0.655,"y":-0.08},{"c":"d","k":"K2","x":0.555,"y":-0.305},{"c":"d","k":"K2","x":0.405,"y":-0.505},{"c":"d","k":"K2","x":0.23,"y":-0.635},{"c":"d","k":"K2","x":0.105,"y":-0.685},{"c":"d","k":"K2","x":0.205,"y":-0.48},{"c":"d","k":"K2","x":0.32,"y":-0.255},{"c":"d","k":"K2","x":0.38,"y":-0.005},{"c":"d","k":"K2","x":0.405,"y":0.245},{"c":"d","k":"K2","x":0.395,"y":0.495},{"c":"d","k":"K2","x":0.345,"y":0.745},{"c":"d","k":"K2","x":0.27,"y":0.96},
{"c":"e","k":"K2","x":-0.5,"y":-0.86},{"c":"e","k":"K2","x":-0.32,"y":-0.87},{"c":"e","k":"K2","x":-0.22,"y":-0.89},{"c":"e","k":"K2","x":-0.26,"y":-0.93}],
"c11":[{"c":"a","k":"K1","x":-0.08,"y":0.01},{"c":"a","k":"K1","x":-0.089,"y":0.073},{"c":"a","k":"K1","x":-0.113,"y":0.118},{"c":"a","k":"K1","x":-0.145,"y":0.135},{"c":"a","k":"K1","x":-0.178,"y":0.118},{"c":"a","k":"K1","x":-0.201,"y":0.073},{"c":"a","k":"K1","x":-0.21,"y":0.01},{"c":"a","k":"K1","x":-0.201,"y":-0.053},{"c":"a","k":"K1","x":-0.178,"y":-0.098},{"c":"a","k":"K1","x":-0.145,"y":-0.115},{"c":"a","k":"K1","x":-0.113,"y":-0.098},{"c":"a","k":"K1","x":-0.089,"y":-0.053},{"c":"a","k":"K1","x":-0.08,"y":0.01},
{"c":"b","k":"K2","x":0.637,"y":0.691},{"c":"b","k":"K2","x":0.636,"y":0.733},{"c":"b","k":"K2","x":0.601,"y":0.779},{"c":"b","k":"K2","x":0.542,"y":0.818},{"c":"b","k":"K2","x":0.474,"y":0.839},{"c":"b","k":"K2","x":0.416,"y":0.835},{"c":"b","k":"K2","x":0.383,"y":0.809},{"c":"b","k":"K2","x":0.384,"y":0.767},{"c":"b","k":"K2","x":0.419,"y":0.721},{"c":"b","k":"K2","x":0.478,"y":0.682},{"c":"b","k":"K2","x":0.546,"y":0.662},{"c":"b","k":"K2","x":0.604,"y":0.665},{"c":"b","k":"K2","x":0.637,"y":0.691},
{"c":"c","k":"K3","x":0.846,"y":-0.404},{"c":"c","k":"K3","x":0.803,"y":-0.396},{"c":"c","k":"K3","x":0.743,"y":-0.425},{"c":"c","k":"K3","x":0.683,"y":-0.482},{"c":"c","k":"K3","x":0.637,"y":-0.551},{"c":"c","k":"K3","x":0.619,"y":-0.615},{"c":"c","k":"K3","x":0.634,"y":-0.656},{"c":"c","k":"K3","x":0.677,"y":-0.664},{"c":"c","k":"K3","x":0.737,"y":-0.635},{"c":"c","k":"K3","x":0.798,"y":-0.578},{"c":"c","k":"K3","x":0.843,"y":-0.509},{"c":"c","k":"K3","x":0.861,"y":-0.445},{"c":"c","k":"K3","x":0.846,"y":-0.404},
{"c":"d","k":"K2","x":-0.66,"y":-0.75},{"c":"d","k":"K2","x":-0.56,"y":-0.81},{"c":"d","k":"K2","x":-0.47,"y":-0.88}],
"c12":[{"c":"a","k":"K1","x":0.831,"y":0.384},{"c":"a","k":"K1","x":0.85,"y":0.414},{"c":"a","k":"K1","x":0.847,"y":0.47},{"c":"a","k":"K1","x":0.824,"y":0.536},{"c":"a","k":"K1","x":0.786,"y":0.596},{"c":"a","k":"K1","x":0.744,"y":0.632},{"c":"a","k":"K1","x":0.709,"y":0.636},{"c":"a","k":"K1","x":0.69,"y":0.606},{"c":"a","k":"K1","x":0.693,"y":0.55},{"c":"a","k":"K1","x":0.716,"y":0.484},{"c":"a","k":"K1","x":0.754,"y":0.424},{"c":"a","k":"K1","x":0.796,"y":0.388},{"c":"a","k":"K1","x":0.831,"y":0.384},
{"c":"b","k":"K2","x":-0.165,"y":0.13},{"c":"b","k":"K2","x":-0.11,"y":0.11},{"c":"b","k":"K2","x":-0.06,"y":0.01},{"c":"b","k":"K2","x":-0.045,"y":-0.145},{"c":"b","k":"K2","x":-0.07,"y":-0.22},{"c":"b","k":"K2","x":-0.12,"y":-0.215},{"c":"b","k":"K2","x":-0.175,"y":-0.13},{"c":"b","k":"K2","x":-0.195,"y":0.01},{"c":"b","k":"K2","x":-0.19,"y":0.095},{"c":"b","k":"K2","x":-0.165,"y":0.13},
{"c":"c","k":"K3","x":-0.66,"y":0.75},{"c":"c","k":"K3","x":-0.57,"y":0.735},{"c":"c","k":"K3","x":-0.485,"y":0.77},{"c":"c","k":"K3","x":-0.425,"y":0.845},{"c":"c","k":"K3","x":-0.41,"y":0.905},
{"c":"d","k":"K3","x":0.42,"y":-0.905},{"c":"d","k":"K3","x":0.41,"y":-0.82},{"c":"d","k":"K3","x":0.455,"y":-0.73},{"c":"d","k":"K3","x":0.555,"y":-0.68},{"c":"d","k":"K3","x":0.655,"y":-0.69}]
},
"vconcat":[
{"spacing":12.5,"hconcat":[
 {"width":612,"height":50,"data":{"values":[{}]},"layer":[
  {"mark":{"type":"text","text":"AMS","fontSize":52,"color":"#1a1a1a","clip":true},"encoding":{"x":{"datum":0.01,"type":"quantitative","scale":{"domain":[-1.2406,3.3609],"nice":false,"zero":false}},"y":{"datum":0.08,"type":"quantitative","scale":{"domain":[0,1],"nice":false,"zero":false}}}},
  {"mark":{"type":"text","text":"AARM","fontSize":52,"color":"#1a1a1a","clip":true},"encoding":{"x":{"datum":2.21},"y":{"datum":0.08}}}]},
 {"width":618,"height":50,"data":{"values":[{}]},"layer":[
  {"mark":{"type":"text","text":"AMS","fontSize":52,"color":"#1a1a1a","clip":true},"encoding":{"x":{"datum":0.0,"type":"quantitative","scale":{"domain":[-1.2632,3.3835],"nice":false,"zero":false}},"y":{"datum":0.08,"type":"quantitative","scale":{"domain":[0,1],"nice":false,"zero":false}}}},
  {"mark":{"type":"text","text":"AARM","fontSize":52,"color":"#1a1a1a","clip":true},"encoding":{"x":{"datum":2.22},"y":{"datum":0.08}}}]}
]},
{"spacing":12.5,"hconcat":[
 {"width":612,"height":292,"resolve":{"scale":{"x":"independent"}},"layer":[
  {"data":{"values":[{}]},"layer":[
   {"mark":{"type":"point","shape":"circle","size":70756,"filled":false,"stroke":"#505050","strokeWidth":1.2},"encoding":{"x":{"datum":0,"type":"quantitative","scale":{"domain":[-1.2406,3.3609],"nice":false,"zero":false}},"y":{"datum":0,"type":"quantitative","scale":{"domain":[-1.0526,1.1429],"nice":false,"zero":false}}}},
   {"mark":"rule","encoding":{"x":{"datum":-0.9},"x2":{"datum":0.9},"y":{"datum":0}}},
   {"mark":"rule","encoding":{"y":{"datum":-0.9},"y2":{"datum":0.9},"x":{"datum":0}}},
   {"data":{"name":"c1"},"mark":"line","encoding":{"x":{"field":"x","type":"quantitative"},"y":{"field":"y","type":"quantitative"},"stroke":{"field":"k"},"detail":{"field":"c"},"order":{"value":null}}},
   {"data":{"name":"p1"},"mark":"point","encoding":{"x":{"field":"x","type":"quantitative"},"y":{"field":"y","type":"quantitative"},"fill":{"field":"k"},"shape":{"field":"k"},"size":{"condition":{"test":"datum.m","value":225},"value":100}}},
   {"mark":{"type":"text","text":["Cufré Granite","(C2 site)"],"fontSize":19,"lineHeight":22},"encoding":{"x":{"datum":1.1},"y":{"datum":0.925}}},
   {"mark":{"type":"text","text":"N=12","align":"right"},"encoding":{"x":{"datum":1.02},"y":{"datum":-0.93}}},
   {"mark":{"type":"text","text":"N","fontSize":17},"encoding":{"x":{"datum":0.015},"y":{"datum":1.013}}},
   {"mark":{"type":"text","text":"270","align":"right","baseline":"middle"},"encoding":{"x":{"datum":-1.015},"y":{"datum":0}}}
  ]},
  {"data":{"values":[{}]},"layer":[
   {"mark":{"type":"point","shape":"circle","size":70756,"filled":false,"stroke":"#505050","strokeWidth":1.2},"encoding":{"x":{"datum":0,"type":"quantitative","scale":{"domain":[-3.4211,1.1805],"nice":false,"zero":false}},"y":{"datum":0,"type":"quantitative","scale":{"domain":[-1.0526,1.1429],"nice":false,"zero":false}}}},
   {"mark":"rule","encoding":{"x":{"datum":-0.9},"x2":{"datum":0.9},"y":{"datum":0}}},
   {"mark":"rule","encoding":{"y":{"datum":-0.9},"y2":{"datum":0.9},"x":{"datum":0}}},
   {"data":{"name":"c2"},"mark":"line","encoding":{"x":{"field":"x","type":"quantitative"},"y":{"field":"y","type":"quantitative"},"stroke":{"field":"k"},"detail":{"field":"c"},"order":{"value":null}}},
   {"data":{"name":"p2"},"mark":"point","encoding":{"x":{"field":"x","type":"quantitative"},"y":{"field":"y","type":"quantitative"},"fill":{"field":"k"},"shape":{"field":"k"},"size":{"condition":{"test":"datum.m","value":180},"value":82}}},
   {"mark":{"type":"text","text":"N=5","align":"right"},"encoding":{"x":{"datum":0.94},"y":{"datum":-0.945}}},
   {"mark":{"type":"text","text":"N","fontSize":17},"encoding":{"x":{"datum":0.015},"y":{"datum":1.013}}},
   {"mark":{"type":"text","text":"90","align":"left","baseline":"middle"},"encoding":{"x":{"datum":1.01},"y":{"datum":0}}}
  ]}
 ]},
 {"width":618,"height":292,"resolve":{"scale":{"x":"independent"}},"layer":[
  {"data":{"values":[{}]},"layer":[
   {"mark":{"type":"point","shape":"circle","size":70756,"filled":false,"stroke":"#505050","strokeWidth":1.2},"encoding":{"x":{"datum":0,"type":"quantitative","scale":{"domain":[-1.2632,3.3835],"nice":false,"zero":false}},"y":{"datum":0,"type":"quantitative","scale":{"domain":[-1.0526,1.1429],"nice":false,"zero":false}}}},
   {"mark":"rule","encoding":{"x":{"datum":-0.9},"x2":{"datum":0.9},"y":{"datum":0}}},
   {"mark":"rule","encoding":{"y":{"datum":-0.9},"y2":{"datum":0.9},"x":{"datum":0}}},
   {"data":{"name":"c3"},"mark":"line","encoding":{"x":{"field":"x","type":"quantitative"},"y":{"field":"y","type":"quantitative"},"stroke":{"field":"k"},"detail":{"field":"c"},"order":{"value":null}}},
   {"data":{"name":"p3"},"mark":"point","encoding":{"x":{"field":"x","type":"quantitative"},"y":{"field":"y","type":"quantitative"},"fill":{"field":"k"},"shape":{"field":"k"},"size":{"condition":{"test":"datum.m","value":225},"value":100}}},
   {"mark":{"type":"text","text":["Pichinango Granite","(C18 site)"],"fontSize":19,"lineHeight":22},"encoding":{"x":{"datum":1.1},"y":{"datum":0.925}}},
   {"mark":{"type":"text","text":"N=15","align":"right"},"encoding":{"x":{"datum":1.05},"y":{"datum":-0.93}}},
   {"mark":{"type":"text","text":"N","fontSize":17},"encoding":{"x":{"datum":0.01},"y":{"datum":1.013}}},
   {"mark":{"type":"text","text":"270","align":"right","baseline":"middle"},"encoding":{"x":{"datum":-1.015},"y":{"datum":0}}}
  ]},
  {"data":{"values":[{}]},"layer":[
   {"mark":{"type":"point","shape":"circle","size":70756,"filled":false,"stroke":"#505050","strokeWidth":1.2},"encoding":{"x":{"datum":0,"type":"quantitative","scale":{"domain":[-3.4662,1.1805],"nice":false,"zero":false}},"y":{"datum":0,"type":"quantitative","scale":{"domain":[-1.0526,1.1429],"nice":false,"zero":false}}}},
   {"mark":"rule","encoding":{"x":{"datum":-0.9},"x2":{"datum":0.9},"y":{"datum":0}}},
   {"mark":"rule","encoding":{"y":{"datum":-0.9},"y2":{"datum":0.9},"x":{"datum":0}}},
   {"data":{"name":"c4"},"mark":"line","encoding":{"x":{"field":"x","type":"quantitative"},"y":{"field":"y","type":"quantitative"},"stroke":{"field":"k"},"detail":{"field":"c"},"order":{"value":null}}},
   {"data":{"name":"p4"},"mark":"point","encoding":{"x":{"field":"x","type":"quantitative"},"y":{"field":"y","type":"quantitative"},"fill":{"field":"k"},"shape":{"field":"k"},"size":{"condition":{"test":"datum.m","value":180},"value":82}}},
   {"mark":{"type":"text","text":"N=5","align":"right"},"encoding":{"x":{"datum":0.94},"y":{"datum":-0.945}}},
   {"mark":{"type":"text","text":"N","fontSize":17},"encoding":{"x":{"datum":0.01},"y":{"datum":1.013}}},
   {"mark":{"type":"text","text":"90","align":"left","baseline":"middle"},"encoding":{"x":{"datum":1.01},"y":{"datum":0}}}
  ]}
 ]}
]},
{"spacing":9,"center":true,"vconcat":[
 {"spacing":12.5,"hconcat":[
  {"width":612,"height":278,"resolve":{"scale":{"x":"independent"}},"layer":[
   {"data":{"values":[{}]},"layer":[
    {"mark":{"type":"point","shape":"circle","size":70756,"filled":false,"stroke":"#505050","strokeWidth":1.2},"encoding":{"x":{"datum":0,"type":"quantitative","scale":{"domain":[-1.2406,3.3609],"nice":false,"zero":false}},"y":{"datum":0,"type":"quantitative","scale":{"domain":[-1.0489,1.0414],"nice":false,"zero":false}}}},
    {"mark":"rule","encoding":{"x":{"datum":-0.9},"x2":{"datum":0.9},"y":{"datum":0}}},
    {"mark":"rule","encoding":{"y":{"datum":-0.9},"y2":{"datum":0.9},"x":{"datum":0}}},
    {"data":{"name":"c5"},"mark":"line","encoding":{"x":{"field":"x","type":"quantitative"},"y":{"field":"y","type":"quantitative"},"stroke":{"field":"k"},"detail":{"field":"c"},"order":{"value":null}}},
    {"data":{"name":"p5"},"mark":"point","encoding":{"x":{"field":"x","type":"quantitative"},"y":{"field":"y","type":"quantitative"},"fill":{"field":"k"},"shape":{"field":"k"},"size":{"condition":{"test":"datum.m","value":225},"value":100}}},
    {"mark":{"type":"text","text":["Cufré Granite","(C3 site)"],"fontSize":19,"lineHeight":22},"encoding":{"x":{"datum":1.09},"y":{"datum":0.846}}},
    {"mark":{"type":"text","text":"N=11","align":"right"},"encoding":{"x":{"datum":1.0},"y":{"datum":-0.935}}},
    {"mark":{"type":"text","text":"270","align":"right","baseline":"middle"},"encoding":{"x":{"datum":-1.015},"y":{"datum":0}}}
   ]},
   {"data":{"values":[{}]},"layer":[
    {"mark":{"type":"point","shape":"circle","size":70756,"filled":false,"stroke":"#505050","strokeWidth":1.2},"encoding":{"x":{"datum":0,"type":"quantitative","scale":{"domain":[-3.4211,1.1805],"nice":false,"zero":false}},"y":{"datum":0,"type":"quantitative","scale":{"domain":[-1.0489,1.0414],"nice":false,"zero":false}}}},
    {"mark":"rule","encoding":{"x":{"datum":-0.9},"x2":{"datum":0.9},"y":{"datum":0}}},
    {"mark":"rule","encoding":{"y":{"datum":-0.9},"y2":{"datum":0.9},"x":{"datum":0}}},
    {"data":{"name":"c6"},"mark":"line","encoding":{"x":{"field":"x","type":"quantitative"},"y":{"field":"y","type":"quantitative"},"stroke":{"field":"k"},"detail":{"field":"c"},"order":{"value":null}}},
    {"data":{"name":"p6"},"mark":"point","encoding":{"x":{"field":"x","type":"quantitative"},"y":{"field":"y","type":"quantitative"},"fill":{"field":"k"},"shape":{"field":"k"},"size":{"condition":{"test":"datum.m","value":180},"value":82}}},
    {"mark":{"type":"text","text":"N=5","align":"right"},"encoding":{"x":{"datum":0.94},"y":{"datum":-0.925}}},
    {"mark":{"type":"text","text":"90","align":"left","baseline":"middle"},"encoding":{"x":{"datum":1.01},"y":{"datum":0}}}
   ]}
  ]},
  {"width":618,"height":278,"resolve":{"scale":{"x":"independent"}},"layer":[
   {"data":{"values":[{}]},"layer":[
    {"mark":{"type":"point","shape":"circle","size":70756,"filled":false,"stroke":"#505050","strokeWidth":1.2},"encoding":{"x":{"datum":0,"type":"quantitative","scale":{"domain":[-1.2632,3.3835],"nice":false,"zero":false}},"y":{"datum":0,"type":"quantitative","scale":{"domain":[-1.0489,1.0414],"nice":false,"zero":false}}}},
    {"mark":"rule","encoding":{"x":{"datum":-0.9},"x2":{"datum":0.9},"y":{"datum":0}}},
    {"mark":"rule","encoding":{"y":{"datum":-0.9},"y2":{"datum":0.9},"x":{"datum":0}}},
    {"data":{"name":"c7"},"mark":"line","encoding":{"x":{"field":"x","type":"quantitative"},"y":{"field":"y","type":"quantitative"},"stroke":{"field":"k"},"detail":{"field":"c"},"order":{"value":null}}},
    {"data":{"name":"p7"},"mark":"point","encoding":{"x":{"field":"x","type":"quantitative"},"y":{"field":"y","type":"quantitative"},"fill":{"field":"k"},"shape":{"field":"k"},"size":{"condition":{"test":"datum.m","value":225},"value":100}}},
    {"mark":{"type":"text","text":["Arroyo Minero Granite","(AM 2 site)"],"fontSize":19,"lineHeight":22},"encoding":{"x":{"datum":1.09},"y":{"datum":0.84}}},
    {"mark":{"type":"text","text":"N=16","align":"right"},"encoding":{"x":{"datum":1.045},"y":{"datum":-0.935}}},
    {"mark":{"type":"text","text":"270","align":"right","baseline":"middle"},"encoding":{"x":{"datum":-1.015},"y":{"datum":0}}}
   ]},
   {"data":{"values":[{}]},"layer":[
    {"mark":{"type":"point","shape":"circle","size":70756,"filled":false,"stroke":"#505050","strokeWidth":1.2},"encoding":{"x":{"datum":0,"type":"quantitative","scale":{"domain":[-3.4662,1.1805],"nice":false,"zero":false}},"y":{"datum":0,"type":"quantitative","scale":{"domain":[-1.0489,1.0414],"nice":false,"zero":false}}}},
    {"mark":"rule","encoding":{"x":{"datum":-0.9},"x2":{"datum":0.9},"y":{"datum":0}}},
    {"mark":"rule","encoding":{"y":{"datum":-0.9},"y2":{"datum":0.9},"x":{"datum":0}}},
    {"data":{"name":"c8"},"mark":"line","encoding":{"x":{"field":"x","type":"quantitative"},"y":{"field":"y","type":"quantitative"},"stroke":{"field":"k"},"detail":{"field":"c"},"order":{"value":null}}},
    {"data":{"name":"p8"},"mark":"point","encoding":{"x":{"field":"x","type":"quantitative"},"y":{"field":"y","type":"quantitative"},"fill":{"field":"k"},"shape":{"field":"k"},"size":{"condition":{"test":"datum.m","value":180},"value":82}}},
    {"mark":{"type":"text","text":"N=5","align":"right"},"encoding":{"x":{"datum":0.95},"y":{"datum":-0.925}}},
    {"mark":{"type":"text","text":"90","align":"left","baseline":"middle"},"encoding":{"x":{"datum":1.01},"y":{"datum":0}}}
   ]}
  ]}
 ]},
 {"spacing":12.5,"hconcat":[
  {"width":612,"height":321,"resolve":{"scale":{"x":"independent"}},"layer":[
   {"data":{"values":[{}]},"layer":[
    {"mark":{"type":"point","shape":"circle","size":70756,"filled":false,"stroke":"#505050","strokeWidth":1.2},"encoding":{"x":{"datum":0,"type":"quantitative","scale":{"domain":[-1.2406,3.3609],"nice":false,"zero":false}},"y":{"datum":0,"type":"quantitative","scale":{"domain":[-1.1729,1.2406],"nice":false,"zero":false}}}},
    {"mark":"rule","encoding":{"x":{"datum":-0.9},"x2":{"datum":0.9},"y":{"datum":0}}},
    {"mark":"rule","encoding":{"y":{"datum":-0.9},"y2":{"datum":0.9},"x":{"datum":0}}},
    {"data":{"name":"c9"},"mark":"line","encoding":{"x":{"field":"x","type":"quantitative"},"y":{"field":"y","type":"quantitative"},"stroke":{"field":"k"},"detail":{"field":"c"},"order":{"value":null}}},
    {"data":{"name":"p9"},"mark":"point","encoding":{"x":{"field":"x","type":"quantitative"},"y":{"field":"y","type":"quantitative"},"fill":{"field":"k"},"shape":{"field":"k"},"size":{"condition":{"test":"datum.m","value":225},"value":100}}},
    {"mark":{"type":"text","text":["Carreta Quemada Gabbro","(C8 site)"],"fontSize":19,"lineHeight":21},"encoding":{"x":{"datum":1.13},"y":{"datum":1.04}}},
    {"mark":{"type":"text","text":"N=12","align":"right"},"encoding":{"x":{"datum":1.015},"y":{"datum":-0.91}}},
    {"mark":{"type":"text","text":"270","align":"right","baseline":"middle"},"encoding":{"x":{"datum":-1.015},"y":{"datum":0}}},
    {"mark":{"type":"text","text":"180"},"encoding":{"x":{"datum":0},"y":{"datum":-1.14}}}
   ]},
   {"data":{"values":[{}]},"layer":[
    {"mark":{"type":"point","shape":"circle","size":70756,"filled":false,"stroke":"#505050","strokeWidth":1.2},"encoding":{"x":{"datum":0,"type":"quantitative","scale":{"domain":[-3.4211,1.1805],"nice":false,"zero":false}},"y":{"datum":0,"type":"quantitative","scale":{"domain":[-1.1729,1.2406],"nice":false,"zero":false}}}},
    {"mark":"rule","encoding":{"x":{"datum":-0.9},"x2":{"datum":0.9},"y":{"datum":0}}},
    {"mark":"rule","encoding":{"y":{"datum":-0.9},"y2":{"datum":0.9},"x":{"datum":0}}},
    {"data":{"name":"c10"},"mark":"line","encoding":{"x":{"field":"x","type":"quantitative"},"y":{"field":"y","type":"quantitative"},"stroke":{"field":"k"},"detail":{"field":"c"},"order":{"value":null}}},
    {"data":{"name":"p10"},"mark":"point","encoding":{"x":{"field":"x","type":"quantitative"},"y":{"field":"y","type":"quantitative"},"fill":{"field":"k"},"shape":{"field":"k"},"size":{"condition":{"test":"datum.m","value":180},"value":82}}},
    {"mark":{"type":"text","text":"N=5","align":"right"},"encoding":{"x":{"datum":0.94},"y":{"datum":-0.917}}},
    {"mark":{"type":"text","text":"90","align":"left","baseline":"middle"},"encoding":{"x":{"datum":1.01},"y":{"datum":0}}},
    {"mark":{"type":"text","text":"180"},"encoding":{"x":{"datum":0},"y":{"datum":-1.14}}}
   ]}
  ]},
  {"width":618,"height":321,"resolve":{"scale":{"x":"independent"}},"layer":[
   {"data":{"values":[{}]},"layer":[
    {"mark":{"type":"point","shape":"circle","size":70756,"filled":false,"stroke":"#505050","strokeWidth":1.2},"encoding":{"x":{"datum":0,"type":"quantitative","scale":{"domain":[-1.2632,3.3835],"nice":false,"zero":false}},"y":{"datum":0,"type":"quantitative","scale":{"domain":[-1.1729,1.2406],"nice":false,"zero":false}}}},
    {"mark":"rule","encoding":{"x":{"datum":-0.9},"x2":{"datum":0.9},"y":{"datum":0}}},
    {"mark":"rule","encoding":{"y":{"datum":-0.9},"y2":{"datum":0.9},"x":{"datum":0}}},
    {"data":{"name":"c11"},"mark":"line","encoding":{"x":{"field":"x","type":"quantitative"},"y":{"field":"y","type":"quantitative"},"stroke":{"field":"k"},"detail":{"field":"c"},"order":{"value":null}}},
    {"data":{"name":"p11"},"mark":"point","encoding":{"x":{"field":"x","type":"quantitative"},"y":{"field":"y","type":"quantitative"},"fill":{"field":"k"},"shape":{"field":"k"},"size":{"condition":{"test":"datum.m","value":225},"value":100}}},
    {"mark":{"type":"text","text":["Arroyo Marincho Granite","(GM 4 site)"],"fontSize":19,"lineHeight":21},"encoding":{"x":{"datum":1.11},"y":{"datum":1.05}}},
    {"mark":{"type":"text","text":"N=14","align":"right"},"encoding":{"x":{"datum":1.045},"y":{"datum":-0.91}}},
    {"mark":{"type":"text","text":"270","align":"right","baseline":"middle"},"encoding":{"x":{"datum":-1.015},"y":{"datum":0}}},
    {"mark":{"type":"text","text":"180"},"encoding":{"x":{"datum":0},"y":{"datum":-1.14}}}
   ]},
   {"data":{"values":[{}]},"layer":[
    {"mark":{"type":"point","shape":"circle","size":70756,"filled":false,"stroke":"#505050","strokeWidth":1.2},"encoding":{"x":{"datum":0,"type":"quantitative","scale":{"domain":[-3.4662,1.1805],"nice":false,"zero":false}},"y":{"datum":0,"type":"quantitative","scale":{"domain":[-1.1729,1.2406],"nice":false,"zero":false}}}},
    {"mark":"rule","encoding":{"x":{"datum":-0.9},"x2":{"datum":0.9},"y":{"datum":0}}},
    {"mark":"rule","encoding":{"y":{"datum":-0.9},"y2":{"datum":0.9},"x":{"datum":0}}},
    {"data":{"name":"c12"},"mark":"line","encoding":{"x":{"field":"x","type":"quantitative"},"y":{"field":"y","type":"quantitative"},"stroke":{"field":"k"},"detail":{"field":"c"},"order":{"value":null}}},
    {"data":{"name":"p12"},"mark":"point","encoding":{"x":{"field":"x","type":"quantitative"},"y":{"field":"y","type":"quantitative"},"fill":{"field":"k"},"shape":{"field":"k"},"size":{"condition":{"test":"datum.m","value":180},"value":82}}},
    {"mark":{"type":"text","text":"N=5","align":"right"},"encoding":{"x":{"datum":0.94},"y":{"datum":-0.9}}},
    {"mark":{"type":"text","text":"90","align":"left","baseline":"middle"},"encoding":{"x":{"datum":1.01},"y":{"datum":0}}},
    {"mark":{"type":"text","text":"180"},"encoding":{"x":{"datum":0},"y":{"datum":-1.14}}}
   ]}
  ]}
 ]},
 {"width":622,"height":29,"data":{"values":[{"k":"K1"},{"k":"K2"},{"k":"K3"}]},
  "encoding":{"x":{"field":"k","type":"nominal","scale":{"type":"point","range":[274,394],"padding":0}}},
  "layer":[
   {"mark":{"type":"point","size":200},"encoding":{"fill":{"field":"k"},"shape":{"field":"k"}}},
   {"mark":{"type":"text","align":"right","baseline":"middle","dx":-17,"fontSize":17,"color":"#222"},"encoding":{"text":{"field":"k"}}}
  ]}
]}
]
}
